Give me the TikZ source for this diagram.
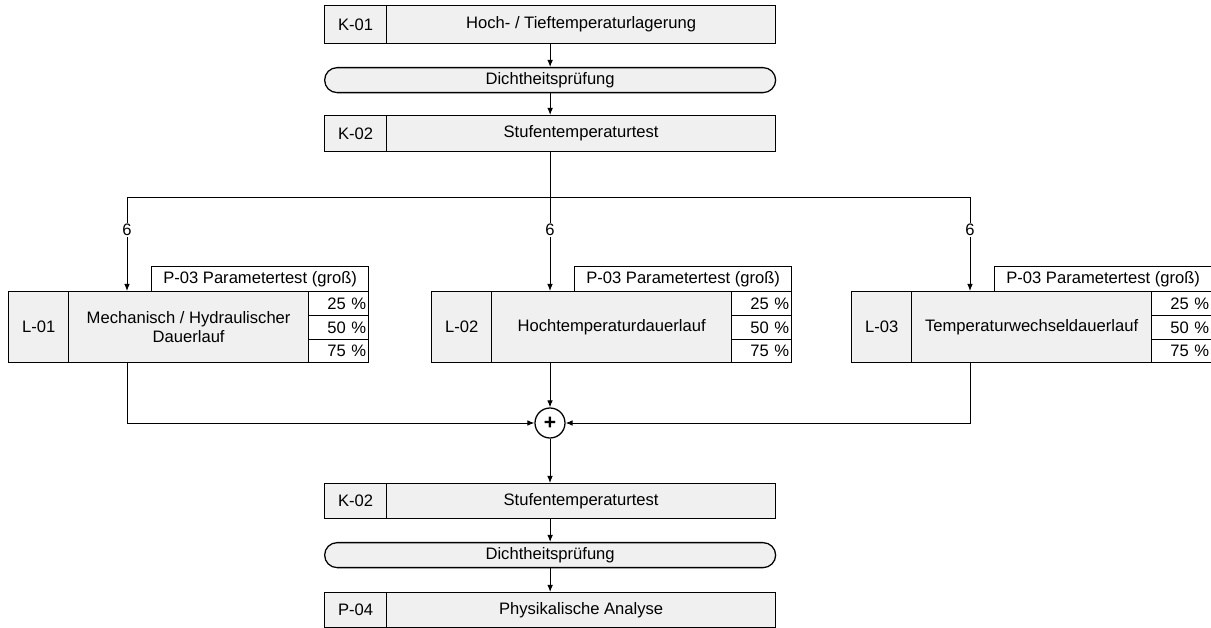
\documentclass[tikz,border=0pt]{standalone}
\usepackage{fontspec}
\setmainfont{Liberation Sans}
\usetikzlibrary{arrows.meta}
\definecolor{boxgray}{RGB}{240,240,240}
\newcommand\pxu{0.025cm}
\tikzset{
	cell/.style={draw, line width=0.9pt, inner sep=0pt, anchor=north west, align=center, font=\fontsize{11.8}{13.5}\selectfont},
	graycell/.style={cell, fill=boxgray},
	whitecell/.style={cell, fill=white},
	pctcell/.style={whitecell, minimum width=60*\pxu, minimum height=24*\pxu, text width=55*\pxu, align=right},
	pill/.style={cell, fill=boxgray, rounded corners=12.5*\pxu, minimum width=451*\pxu, minimum height=25*\pxu},
	link/.style={line width=0.7pt},
	flow/.style={link, -{Latex[length=5pt,width=4pt]}},
	count/.style={fill=white, inner sep=1pt, font=\fontsize{11.8}{13.5}\selectfont},
}
\begin{document}
\begin{tikzpicture}[x=0.025cm, y=-0.025cm]
	\useasboundingbox (0,0) rectangle (1211,628);
	\node[graycell, minimum width=62*\pxu, minimum height=38*\pxu] (k01id) at (324,5) {K-01};
	\node[graycell, minimum width=389*\pxu, minimum height=38*\pxu] (k01) at (386,5) {Hoch- / Tieftemperaturlagerung};
	\node[pill] (dicht1) at (324,67) {Dichtheitsprüfung};
	\node[graycell, minimum width=62*\pxu, minimum height=36*\pxu] (k02id) at (324,115) {K-02};
	\node[graycell, minimum width=389*\pxu, minimum height=36*\pxu] (k02) at (386,115) {Stufentemperaturtest};
	\draw[flow] (dicht1.north |- k01.south) -- (dicht1.north);
	\draw[flow] (dicht1.south) -- (dicht1.south |- k02.north);
	\coordinate (split) at (550,197);
	\draw[link] (k02.south -| split) -- (split);
	\foreach \name/\xl/\id/\title in {l01/8/L-01/{Mechanisch / Hydraulischer\\Dauerlauf}, l02/431/L-02/Hochtemperaturdauerlauf, l03/851/L-03/Temperaturwechseldauerlauf} {
		\node[graycell, minimum width=60*\pxu, minimum height=71*\pxu] (\name id) at (\xl,291) {\id};
		\node[graycell, minimum width=240*\pxu, minimum height=71*\pxu] (\name) at (\xl+60,291) {\title};
		\node[whitecell, minimum width=217*\pxu, minimum height=25*\pxu] (\name p) at (\xl+143,266) {P-03 Parametertest (groß)};
		\node[pctcell] (\name a) at (\xl+300,291) {25 \%};
		\node[pctcell] (\name b) at (\xl+300,315) {50 \%};
		\node[pctcell, minimum height=23*\pxu] (\name c) at (\xl+300,339) {75 \%};
		\coordinate (\name in) at (\xl+119,291);
		\coordinate (\name out) at (\xl+119,362);
	}
	\draw[flow] (split) -| node[count, pos=0.675] {6} (l01in);
	\draw[flow] (split) -- node[count, pos=0.35] {6} (l02in);
	\draw[flow] (split) -| node[count, pos=0.675] {6} (l03in);
	\node[draw, circle, line width=0.9pt, fill=white, inner sep=0pt, minimum size=30*\pxu, font=\fontsize{15}{15}\selectfont\bfseries] (sum) at (550,423) {+};
	\draw[flow] (l02out) -- (sum);
	\draw[flow] (l01out) |- (sum);
	\draw[flow] (l03out) |- (sum);
	\node[graycell, minimum width=62*\pxu, minimum height=35*\pxu] (k02bid) at (324,483) {K-02};
	\node[graycell, minimum width=389*\pxu, minimum height=35*\pxu] (k02b) at (386,483) {Stufentemperaturtest};
	\node[pill] (dicht2) at (324,542) {Dichtheitsprüfung};
	\node[graycell, minimum width=62*\pxu, minimum height=35*\pxu] (p04id) at (324,592) {P-04};
	\node[graycell, minimum width=389*\pxu, minimum height=35*\pxu] (p04) at (386,592) {Physikalische Analyse};
	\draw[flow] (sum) -- (sum.south |- k02b.north);
	\draw[flow] (dicht2.north |- k02b.south) -- (dicht2.north);
	\draw[flow] (dicht2.south) -- (dicht2.south |- p04.north);
\end{tikzpicture}
\end{document}
